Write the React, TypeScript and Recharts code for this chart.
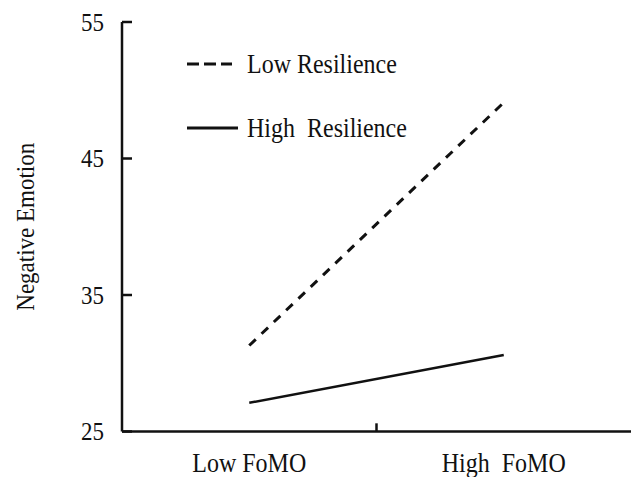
import React from 'react';
import { LineChart, Line, XAxis, YAxis, Legend, ReferenceLine } from 'recharts';

const categories = ['Low FoMO', 'High  FoMO'];
const lowResilience = [31.3, 49.1];
const highResilience = [27.1, 30.6];
const yTicks = [25, 35, 45, 55];
const seriesNames = ['Low Resilience', 'High  Resilience'];

const FONT = '"Liberation Serif", "Times New Roman", serif';
const INK = '#111';
// the scanned figure's type is a little taller than it is wide
const STRETCH = 1.1;

// categories sit at 1 and 3 on a 0..4 axis, the middle tick at 2
const data = categories.map((name, i) => ({
  pos: i * 2 + 1,
  name,
  low: lowResilience[i],
  high: highResilience[i],
}));

const dashes: Record<string, string | undefined> = { low: '12 5', high: undefined };

const Tall = ({ x, y, anchor = 'start', size = 24, children }: any) => (
  <text
    transform={`translate(${x}, ${y}) scale(1, ${STRETCH})`}
    textAnchor={anchor}
    fontSize={size}
    fontFamily={FONT}
    fill={INK}
    style={{ whiteSpace: 'pre' }}
  >
    {children}
  </text>
);

const YTick = (props: any) => {
  const { x, y, payload } = props;
  return (
    <g>
      <line x1={x} y1={y} x2={x + 10} y2={y} stroke={INK} strokeWidth={2.5} />
      <Tall x={x - 18} y={y + 8.5} anchor="end" size={23}>
        {payload.value}
      </Tall>
    </g>
  );
};

const XTick = (props: any) => {
  const { x, y, payload } = props;
  const label = categories[(payload.value - 1) / 2];
  return (
    <Tall x={x} y={y + 40} anchor="middle" size={24}>
      {label}
    </Tall>
  );
};

const YTitle = (props: any) => {
  const { viewBox } = props;
  const cx = viewBox.x + 34;
  const cy = viewBox.y + viewBox.height / 2;
  return (
    <text
      transform={`translate(${cx}, ${cy}) rotate(-90) scale(1, ${STRETCH})`}
      textAnchor="middle"
      fontSize={23}
      fontFamily={FONT}
      fill={INK}
    >
      Negative Emotion
    </text>
  );
};

const LegendBox = (props: any) => {
  const { payload = [] } = props;
  const entries = [...payload].sort(
    (a: any, b: any) => seriesNames.indexOf(a.value) - seriesNames.indexOf(b.value)
  );
  return (
    <svg width={240} height={110} style={{ display: 'block' }}>
      {entries.map((entry: any, i: number) => {
        const cy = 24 + i * 64;
        const dash = dashes[entry.dataKey];
        return (
          <g key={entry.dataKey}>
            <line
              x1={2}
              y1={cy}
              x2={dash ? 47 : 53}
              y2={cy}
              stroke={INK}
              strokeWidth={3}
              strokeDasharray={dash}
            />
            <Tall x={62} y={cy + 9} size={24}>
              {entry.value}
            </Tall>
          </g>
        );
      })}
    </svg>
  );
};

export default function App() {
  return (
    <div style={{ position: 'absolute', left: 0, top: 0, background: '#fff' }}>
      <LineChart width={631} height={477} data={data} margin={{ top: 22, right: 0, bottom: 0, left: 0 }}>
        <XAxis
          dataKey="pos"
          type="number"
          domain={[0, 4]}
          ticks={[1, 3]}
          tickLine={false}
          tickSize={0}
          tickMargin={0}
          height={45.5}
          axisLine={{ stroke: INK, strokeWidth: 2.5 }}
          tick={<XTick />}
        />
        <YAxis
          type="number"
          domain={[25, 55]}
          ticks={yTicks}
          interval={0}
          width={122}
          tickLine={false}
          tickSize={0}
          tickMargin={0}
          axisLine={{ stroke: INK, strokeWidth: 2.5 }}
          tick={<YTick />}
          label={<YTitle />}
        />
        <ReferenceLine
          segment={[
            { x: 2, y: 25 },
            { x: 2, y: 25.6 },
          ]}
          stroke={INK}
          strokeWidth={2.5}
          ifOverflow="visible"
        />
        <Legend
          layout="vertical"
          align="center"
          verticalAlign="middle"
          content={<LegendBox />}
          wrapperStyle={{ left: 185, top: 40, width: 240 }}
        />
        <Line
          dataKey="low"
          name={seriesNames[0]}
          stroke={INK}
          strokeWidth={3}
          strokeDasharray="9 8"
          dot={false}
          activeDot={false}
          isAnimationActive={false}
        />
        <Line
          dataKey="high"
          name={seriesNames[1]}
          stroke={INK}
          strokeWidth={2.5}
          dot={false}
          activeDot={false}
          isAnimationActive={false}
        />
      </LineChart>
    </div>
  );
}
